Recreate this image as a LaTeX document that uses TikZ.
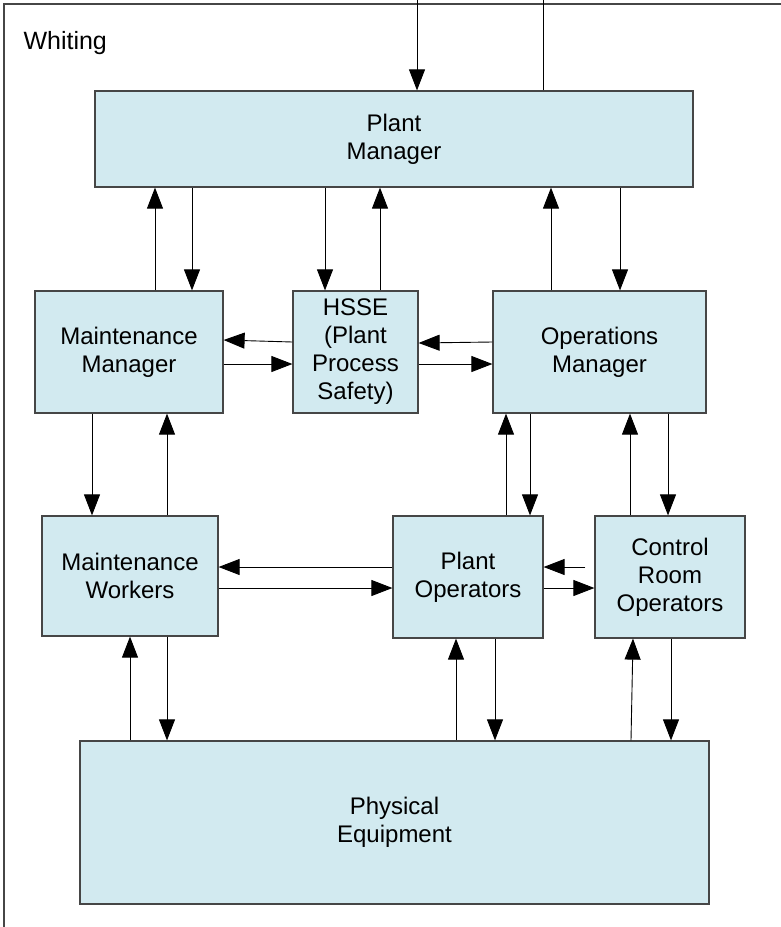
\documentclass[tikz,border=0pt]{standalone}
\usepackage{fontspec}
\setmainfont{Liberation Sans}
\usetikzlibrary{arrows.meta}
\definecolor{boxfill}{RGB}{210,234,240}
\definecolor{boxline}{RGB}{70,70,70}
\tikzset{
  box/.style={draw=boxline, line width=1.2pt, fill=boxfill, align=center,
    font=\fontsize{24}{28}\selectfont, inner sep=0pt},
  conn/.style={draw=black, line width=0.9pt, -{Triangle[length=21pt,width=16pt]}},
  plain/.style={draw=black, line width=0.9pt},
}
\begin{document}
\begin{tikzpicture}[x=1pt,y=-1pt]
\useasboundingbox (0,0) rectangle (781,927);
\fill[white] (0,0) rectangle (781,927);
% frame
\draw[boxline, line width=1.2pt] (4,927) -- (4,4) -- (781,4);
\node[anchor=base west, font=\fontsize{25}{29}\selectfont] (title) at (20,49) {Whiting};
% boxes
\node[box, minimum width=598pt, minimum height=96pt] (pm) at (394,139) {Plant\\Manager};
\node[box, minimum width=188pt, minimum height=122pt] (mm) at (129,352) {Maintenance\\Manager};
\node[box, minimum width=125pt, minimum height=122pt] (hsse) at (355.5,352) {HSSE\\(Plant\\Process\\Safety)};
\node[box, minimum width=213pt, minimum height=122pt] (om) at (599.5,352) {Operations\\Manager};
\node[box, minimum width=176pt, minimum height=120pt] (mw) at (130,576) {Maintenance\\Workers};
\node[box, minimum width=150pt, minimum height=122pt] (po) at (468,577) {Plant\\Operators};
\node[box, minimum width=150pt, minimum height=122pt] (cro) at (670,577) {Control\\Room\\Operators};
\node[box, minimum width=629pt, minimum height=163pt] (pe) at (394.5,822.5) {Physical\\Equipment};
% top external lines
\coordinate (tin) at (417,0);
\coordinate (tout) at (543,0);
\draw[conn] (tin) -- (tin |- pm.north);
\draw[plain] (tout |- pm.north) -- (tout);
% PM <-> MM
\draw[conn] (155,0 |- mm.north) -- (155,0 |- pm.south);
\draw[conn] (192,0 |- pm.south) -- (192,0 |- mm.north);
% PM <-> HSSE
\draw[conn] (325,0 |- pm.south) -- (325,0 |- hsse.north);
\draw[conn] (380,0 |- hsse.north) -- (380,0 |- pm.south);
% PM <-> OM
\draw[conn] (551,0 |- om.north) -- (551,0 |- pm.south);
\draw[conn] (620,0 |- pm.south) -- (620,0 |- om.north);
% HSSE <-> MM
\draw[conn] (hsse.west |- 0,342) -- (mm.east |- 0,340);
\draw[conn] (mm.east |- 0,364) -- (hsse.west |- 0,364);
% OM <-> HSSE
\draw[conn] (om.west |- 0,342) -- (hsse.east |- 0,343);
\draw[conn] (hsse.east |- 0,364) -- (om.west |- 0,364);
% MM <-> MW
\draw[conn] (92,0 |- mm.south) -- (92,0 |- mw.north);
\draw[conn] (167,0 |- mw.north) -- (167,0 |- mm.south);
% OM <-> PO
\draw[conn] (506,0 |- po.north) -- (506,0 |- om.south);
\draw[conn] (530,0 |- om.south) -- (530,0 |- po.north);
% OM <-> CRO
\draw[conn] (630,0 |- cro.north) -- (630,0 |- om.south);
\draw[conn] (668,0 |- om.south) -- (668,0 |- cro.north);
% PO <-> MW
\draw[conn] (po.west |- 0,567) -- (mw.east |- 0,567);
\draw[conn] (mw.east |- 0,588) -- (po.west |- 0,588);
% CRO <-> PO
\draw[conn, shorten <=9pt] (cro.west |- 0,567) -- (po.east |- 0,567);
\draw[conn] (po.east |- 0,588) -- (cro.west |- 0,588);
% MW <-> PE
\draw[conn] (130,0 |- pe.north) -- (130,0 |- mw.south);
\draw[conn] (167,0 |- mw.south) -- (167,0 |- pe.north);
% PO <-> PE
\draw[conn] (456,0 |- pe.north) -- (456,0 |- po.south);
\draw[conn] (495,0 |- po.south) -- (495,0 |- pe.north);
% CRO <-> PE
\draw[conn] (631,0 |- pe.north) -- (633,0 |- cro.south);
\draw[conn] (671,0 |- cro.south) -- (671,0 |- pe.north);
\end{tikzpicture}
\end{document}
